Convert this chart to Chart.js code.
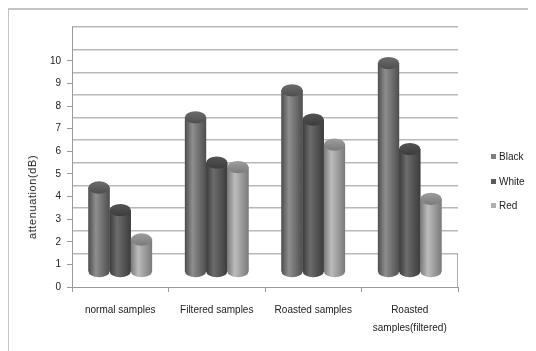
<!DOCTYPE html>
<html>
<head>
<meta charset="utf-8">
<script src="https://cdn.jsdelivr.net/npm/chart.js@4.4.1/dist/chart.umd.min.js"></script>
<style>
  body { margin: 0; background: #fff; }
  #wrap { position: relative; width: 536px; height: 351px; overflow: hidden; font-family: 'Liberation Sans', Arial, sans-serif; color: #222; }
  #frame { position: absolute; left: 8px; top: 8px; width: 519px; height: 400px; border-top: 2px solid #c4c4c4; border-left: 1px solid #c4c4c4; }
  #chart { position: absolute; left: 0; top: 0; }
  #ytitle { position: absolute; left: 32px; top: 197px; transform: translate(-50%, -50%) rotate(-90deg); white-space: nowrap; font-size: 11px; letter-spacing: 0.6px; }
  .item { position: absolute; left: 491px; font-size: 10px; line-height: 12px; }
  .item span { display: inline-block; width: 5px; height: 5px; margin-right: 3px; vertical-align: 1px; }
</style>
</head>
<body>
<div id="wrap">
  <div id="frame"></div>
  <canvas id="chart" width="536" height="351"></canvas>
  <div id="ytitle">attenuation(dB)</div>
  <div id="legend"></div>
</div>
<script>
"use strict";

const categories = ['normal samples', 'Filtered samples', 'Roasted samples', ['Roasted', 'samples(filtered)']];
const seriesNames = ['Black', 'White', 'Red'];
const blackValues = [4.4, 7.5, 8.7, 9.9];
const whiteValues = [3.4, 5.5, 7.4, 6.1];
const redValues = [2.1, 5.3, 6.3, 3.9];
const yTicks = [0, 1, 2, 3, 4, 5, 6, 7, 8, 9, 10];
const wallLines = [1, 2, 3, 4, 5, 6, 7, 8, 9, 10, 11];

// cylinder shading per series
const shades = [
    {edge: '#4e4e4e', light: '#8e8e8e', top: '#6c6c6c', key: '#7e7e7e'},
    {edge: '#3c3c3c', light: '#6c6c6c', top: '#545454', key: '#5c5c5c'},
    {edge: '#7a7a7a', light: '#bcbcbc', top: '#9e9e9e', key: '#b0b0b0'}
];

// legend
const legend = document.getElementById('legend');
[157, 182, 206].forEach((cy, i) => {
    const item = document.createElement('div');
    item.className = 'item';
    item.style.top = (cy - 6) + 'px';
    item.innerHTML = '<span style="background:' + shades[i].key + '"></span>' + seriesNames[i];
    legend.appendChild(item);
});

// draws the bars again as cylinders, from the library's bar elements
const cylinders = {
    id: 'cylinders',
    beforeDatasetsDraw(chart) {
        const ctx = chart.ctx;
        const area = chart.chartArea;
        const wall = chart.scales.y2;
        ctx.save();
        ctx.strokeStyle = '#b0b0b0';
        ctx.lineWidth = 1;
        ctx.beginPath();
        ctx.moveTo(area.right - 0.5, wall.getPixelForValue(1));
        ctx.lineTo(area.right - 0.5, area.bottom);
        ctx.stroke();
        ctx.restore();
    },
    afterDatasetsDraw(chart) {
        const ctx = chart.ctx;
        chart.data.datasets.forEach((ds, i) => {
            const meta = chart.getDatasetMeta(i);
            const shade = shades[i];
            meta.data.forEach(bar => {
                const {x, y, base, width} = bar.getProps(['x', 'y', 'base', 'width'], true);
                const left = x - width / 2;
                const right = x + width / 2;
                const ry = width * 0.29;
                const gr = ctx.createLinearGradient(left, 0, right, 0);
                gr.addColorStop(0, shade.edge);
                gr.addColorStop(0.35, shade.light);
                gr.addColorStop(1, shade.edge);
                ctx.save();
                ctx.fillStyle = gr;
                ctx.beginPath();
                ctx.moveTo(left, y);
                ctx.lineTo(left, base);
                ctx.ellipse(x, base, width / 2, ry, 0, Math.PI, 0, true);
                ctx.lineTo(right, y);
                ctx.closePath();
                ctx.fill();

                const tg = ctx.createLinearGradient(0, y - ry, 0, y + ry);
                tg.addColorStop(0, shade.top);
                tg.addColorStop(1, shade.edge);
                ctx.fillStyle = tg;
                ctx.beginPath();
                ctx.ellipse(x, y, width / 2, ry, 0, 0, Math.PI * 2);
                ctx.fill();
                ctx.restore();
            });
        });
    }
};

const datasets = [blackValues, whiteValues, redValues].map((values, i) => ({
    label: seriesNames[i],
    data: values,
    backgroundColor: shades[i].key,
    borderWidth: 0,
    base: 0.7,
    barPercentage: 1,
    categoryPercentage: 0.66
}));

new Chart(document.getElementById('chart'), {
    type: 'bar',
    data: {
        labels: categories,
        datasets: datasets
    },
    plugins: [cylinders],
    options: {
        responsive: false,
        animation: false,
        layout: {
            padding: {left: 0, top: 27, right: 78, bottom: 0}
        },
        plugins: {
            legend: {display: false},
            tooltip: {enabled: false}
        },
        scales: {
            x: {
                afterFit: scale => { scale.height = 64; },
                grid: {
                    drawOnChartArea: false,
                    drawTicks: true,
                    tickLength: 5,
                    color: '#9a9a9a'
                },
                border: {color: '#9a9a9a'},
                ticks: {
                    color: '#222',
                    padding: 9,
                    font: {family: 'Liberation Sans', size: 10, lineHeight: 1.8}
                }
            },
            y: {
                min: 0,
                max: 11.5,
                afterFit: scale => { scale.width = 72; },
                afterBuildTicks: scale => {
                    scale.ticks = yTicks.map(v => ({value: v}));
                },
                grid: {
                    drawOnChartArea: false,
                    drawTicks: true,
                    tickLength: 5,
                    color: '#9a9a9a'
                },
                border: {color: '#9a9a9a'},
                ticks: {
                    color: '#222',
                    padding: 6,
                    font: {family: 'Liberation Sans', size: 10}
                }
            },
            y2: {
                position: 'left',
                min: -0.49,
                max: 11,
                afterFit: scale => { scale.width = 0; },
                afterBuildTicks: scale => {
                    scale.ticks = wallLines.map(v => ({value: v}));
                },
                grid: {
                    drawTicks: false,
                    color: '#b8b8b8',
                    lineWidth: 1.5
                },
                border: {display: false},
                ticks: {display: false}
            }
        }
    }
});
</script>
</body>
</html>
